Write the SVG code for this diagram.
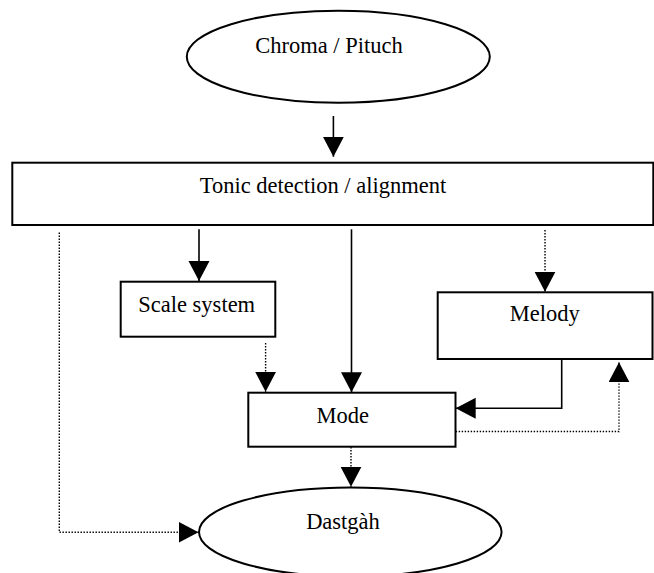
<svg xmlns="http://www.w3.org/2000/svg" width="654" height="573" viewBox="0 0 654 573">
  <style>
    .shape { fill: #ffffff; stroke: #000000; stroke-width: 2; }
    .label { font-family: "Liberation Serif", "Times New Roman", serif; font-size: 22.5px; fill: #000000; text-anchor: middle; }
    .solid { fill: none; stroke: #000000; stroke-width: 1.6; }
    .dotted { fill: none; stroke: #000000; stroke-width: 1.4; stroke-dasharray: 1.4 1.6; }
  </style>
  <defs>
    <marker id="arrow" markerUnits="userSpaceOnUse" markerWidth="22" markerHeight="22" refX="20" refY="10.5" orient="auto" viewBox="0 0 22 22">
      <path d="M0,0 L20,10.5 L0,21 Z" fill="#000000" stroke="none"/>
    </marker>
  </defs>
  <rect width="654" height="573" fill="#ffffff"/>

  <g id="node-chroma">
    <ellipse class="shape" cx="338.3" cy="56.7" rx="151.5" ry="46"/>
    <text class="label" x="329" y="53.3">Chroma / Pituch</text>
  </g>

  <g id="node-tonic">
    <rect class="shape" x="12.3" y="162.7" width="641" height="62.3"/>
    <text class="label" x="323" y="192.7">Tonic detection / alignment</text>
  </g>

  <g id="node-scale">
    <rect class="shape" x="120.7" y="281.7" width="154.6" height="55"/>
    <text class="label" x="196.7" y="312.3">Scale system</text>
  </g>

  <g id="node-melody">
    <rect class="shape" x="437.7" y="292.3" width="214.8" height="66.7"/>
    <text class="label" x="544.7" y="320.7">Melody</text>
  </g>

  <g id="node-mode">
    <rect class="shape" x="248.3" y="392.7" width="207.2" height="54"/>
    <text class="label" x="342.8" y="422.7">Mode</text>
  </g>

  <g id="node-dastgah">
    <ellipse class="shape" cx="350.3" cy="532" rx="151.3" ry="44.5"/>
    <text class="label" x="343" y="529.3">Dastgàh</text>
  </g>

  <g id="connectors">
    <line class="solid" x1="333.4" y1="116" x2="333.4" y2="156.7" marker-end="url(#arrow)"/>
    <line class="solid" x1="199" y1="229.3" x2="199" y2="281" marker-end="url(#arrow)"/>
    <line class="solid" x1="351.5" y1="229.3" x2="351.5" y2="392.3" marker-end="url(#arrow)"/>
    <line class="dotted" x1="545" y1="230" x2="545" y2="291.7" marker-end="url(#arrow)"/>
    <line class="dotted" x1="265.6" y1="343" x2="265.6" y2="391.7" marker-end="url(#arrow)"/>
    <polyline class="solid" points="561.7,359 561.7,408.3 455.7,408.3" marker-end="url(#arrow)"/>
    <polyline class="dotted" points="455.7,431.5 619,431.5 619,362.3" marker-end="url(#arrow)"/>
    <line class="dotted" x1="351" y1="447" x2="351" y2="486.7" marker-end="url(#arrow)"/>
    <polyline class="dotted" points="59.3,232.5 59.3,532.3 198.5,532.3" marker-end="url(#arrow)"/>
  </g>
</svg>
